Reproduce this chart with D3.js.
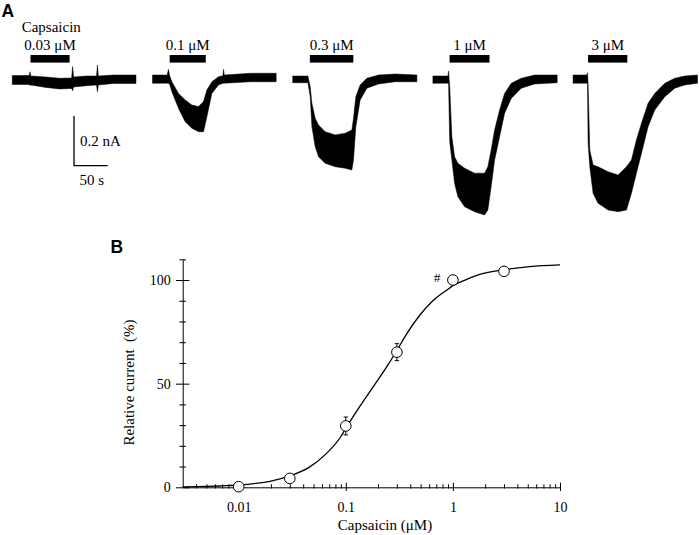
<!DOCTYPE html>
<html>
<head>
<meta charset="utf-8">
<script src="https://cdn.jsdelivr.net/npm/d3@7"></script>
<style>
  body { margin: 0; background: #fff; }
  svg { display: block; }
  .serif { font-family: "Liberation Serif", "Times New Roman", serif; }
  .panel { font-family: "Liberation Sans", Arial, sans-serif; font-weight: bold; }
</style>
</head>
<body>
<script>
// Panel A — current traces, one per capsaicin dose.
// Each row: [time in s from trace start, upper edge (nA), lower edge (nA)]
const doseLabels = ["0.03 μM", "0.1 μM", "0.3 μM", "1 μM", "3 μM"];
const traceOffsets = [0, 208, 416, 624, 832];   // s, start of each trace
const barStart = [27, 25.5, 25.5, 24.8, 22.3];   // s, capsaicin on
const barEnd = [85, 79, 90, 84, 80.5];           // s, capsaicin off

const trace003 = [
  [0, 0.016, -0.020], [25, 0.016, -0.020], [26.3, 0.031, -0.024], [27.5, 0.014, -0.022],
  [50, 0.010, -0.032], [70, 0.005, -0.038], [88, 0.006, -0.036], [89.5, 0.052, -0.045],
  [91, 0.010, -0.030], [110, 0.014, -0.025], [125, 0.014, -0.022], [126.3, 0.058, -0.049],
  [127.6, 0.014, -0.022], [150, 0.018, -0.016], [183.5, 0.018, -0.016]
];
const trace01 = [
  [0, 0.018, -0.015], [21.8, 0.018, -0.015], [23.7, 0.041, -0.015], [25.5, 0.015, -0.020],
  [28.8, -0.009, -0.049], [38.6, -0.056, -0.116], [48.5, -0.082, -0.170], [58.5, -0.103, -0.196],
  [68.3, -0.109, -0.210], [75.7, -0.089, -0.210], [80.7, -0.042, -0.150], [88.1, -0.009, -0.056],
  [97.9, 0.011, -0.022], [104.5, 0.015, -0.015], [105.3, 0.041, -0.015], [106.5, 0.018, -0.015],
  [145, 0.025, -0.009], [183.5, 0.025, -0.009]
];
const trace03 = [
  [0, 0.014, -0.013], [22.6, 0.014, -0.013], [26, -0.029, -0.069], [28.5, -0.096, -0.190],
  [33.4, -0.156, -0.270], [38.3, -0.183, -0.311], [48.2, -0.210, -0.337], [63.1, -0.223, -0.351],
  [77.9, -0.216, -0.357], [87.8, -0.203, -0.364], [90.2, -0.156, -0.324], [93.7, -0.069, -0.190],
  [100.1, -0.022, -0.082], [110.1, 0.005, -0.035], [127.3, 0.018, -0.018], [152.1, 0.022, -0.009],
  [184.3, 0.018, -0.009]
];
const trace1 = [
  [0, 0.014, -0.015], [22.3, 0.014, -0.015], [23.3, 0.034, -0.015], [24.8, -0.022, -0.230],
  [25.2, -0.042, -0.257], [28.2, -0.230, -0.324], [32.2, -0.311, -0.418], [37.1, -0.337, -0.472],
  [47.1, -0.357, -0.512], [61.9, -0.377, -0.532], [76.7, -0.377, -0.545], [81.6, -0.351, -0.525],
  [86.5, -0.284, -0.431], [91.6, -0.203, -0.324], [99, -0.123, -0.230], [106.4, -0.056, -0.136],
  [116.3, -0.015, -0.076], [131.1, 0.005, -0.035], [151, 0.018, -0.018], [184.4, 0.018, -0.013]
];
const trace3 = [
  [0, 0.018, -0.015], [20.3, 0.018, -0.015], [21.4, 0.027, -0.015], [22.3, -0.015, -0.257],
  [24.8, -0.284, -0.351], [29.7, -0.344, -0.458], [37.1, -0.351, -0.498], [51.9, -0.371, -0.525],
  [66.8, -0.384, -0.532], [79.2, -0.351, -0.525], [86.6, -0.324, -0.458], [94, -0.243, -0.377],
  [101.5, -0.176, -0.297], [111.3, -0.096, -0.190], [121.2, -0.056, -0.123], [136.1, -0.015, -0.069],
  [150.9, 0.005, -0.035], [165.7, 0.014, -0.022], [184.6, 0.018, -0.015]
];
const traces = [trace003, trace01, trace03, trace1, trace3];

// Panel B — concentration–response
const conc = [0.01, 0.03, 0.1, 0.3, 1, 3];           // μM
const relCurrent = [0.3, 4.3, 29.6, 65.2, 100, 104.2]; // %
const sem = [0.4, 1.2, 4.3, 4.1, 0, 1.0];
const fitConc = [0.003, 0.005, 0.007, 0.01, 0.015, 0.02, 0.03, 0.045, 0.065, 0.09, 0.1,
  0.135, 0.18, 0.24, 0.3, 0.37, 0.49, 0.65, 0.88, 1, 1.3, 1.78, 3, 5.2, 10];
const fitValue = [0.2, 0.4, 0.7, 1.1, 2.0, 3.0, 5.5, 9.5, 16, 24.5, 28.5,
  39, 48.5, 58, 66, 74, 83, 90, 95.2, 97.3, 100, 102.7, 105, 106.5, 107.3];
const xMajor = [0.01, 0.1, 1, 10];
const yMajor = [0, 50, 100];

const W = 699, H = 535;
const svg = d3.select("body").append("svg").attr("width", W).attr("height", H);
svg.append("rect").attr("width", W).attr("height", H).attr("fill", "#fff");

// ---------- Panel A ----------
const gA = svg.append("g");
gA.append("text").attr("class", "panel").attr("x", 1.5).attr("y", 16.7)
  .attr("font-size", 17.5).text("A");

const tx = d3.scaleLinear().domain([0, 50]).range([12.3, 12.3 + 33.7]);   // 50 s = 33.7 px
const iy = d3.scaleLinear().domain([0, -0.2]).range([79.5, 129.2]);        // 0.2 nA = 49.7 px

traces.forEach((tr, i) => {
  const off = traceOffsets[i];
  const area = d3.area()
    .x(d => tx(off + d[0]))
    .y0(d => iy(d[2]))
    .y1(d => iy(d[1]));
  gA.append("path").attr("d", area(tr))
    .attr("fill", "#000").attr("stroke", "#000").attr("stroke-width", 0.5)
    .attr("stroke-linejoin", "round");

  gA.append("rect")
    .attr("x", tx(off + barStart[i]))
    .attr("y", 55)
    .attr("width", tx(off + barEnd[i]) - tx(off + barStart[i]))
    .attr("height", 7.6)
    .attr("fill", "#000");

  gA.append("text").attr("class", "serif")
    .attr("x", (tx(off + barStart[i]) + tx(off + barEnd[i])) / 2)
    .attr("y", 50).attr("text-anchor", "middle").attr("font-size", 15)
    .text(doseLabels[i]);
});

gA.append("text").attr("class", "serif").attr("x", 21.7).attr("y", 31.5)
  .attr("font-size", 15).text("Capsaicin");

// scale bar
const sbX = 74, sbY = 165.7;
const sbH = iy(-0.2) - iy(0), sbW = tx(50) - tx(0);
gA.append("path")
  .attr("d", `M${sbX},${sbY - sbH}V${sbY}H${sbX + sbW}`)
  .attr("fill", "none").attr("stroke", "#000").attr("stroke-width", 1.3);
gA.append("text").attr("class", "serif").attr("x", 80).attr("y", 146)
  .attr("font-size", 15).text("0.2 nA");
gA.append("text").attr("class", "serif").attr("x", 79.5).attr("y", 185)
  .attr("font-size", 15).text("50 s");

// ---------- Panel B ----------
const gB = svg.append("g");
gB.append("text").attr("class", "panel").attr("x", 110.5).attr("y", 252.5)
  .attr("font-size", 17.5).text("B");

const x = d3.scaleLog().domain([0.003, 10]).range([182.7, 560]);
const y = d3.scaleLinear().domain([0, 110]).range([487.3, 259.3]);

// y axis
const yAxisG = gB.append("g").attr("class", "serif")
  .attr("transform", `translate(${x.range()[0]},0)`)
  .call(d3.axisLeft(y).tickValues(yMajor).tickSize(0).tickSizeOuter(0).tickPadding(12));
yAxisG.selectAll(".tick line").attr("x1", -6.7).attr("x2", 6.7);
const yAxisMinor = gB.append("g")
  .attr("transform", `translate(${x.range()[0]},0)`)
  .call(d3.axisLeft(y).tickValues(d3.range(10, 111, 10).filter(v => !yMajor.includes(v)))
    .tickFormat("").tickSize(0).tickSizeOuter(0));
yAxisMinor.select(".domain").remove();
yAxisMinor.selectAll(".tick line").attr("x1", -3.3).attr("x2", 3.3);

// x axis
const minorX = [];
[0.001, 0.01, 0.1, 1].forEach(dec => {
  for (let k = 2; k <= 9; k++) {
    const v = +(dec * k).toPrecision(3);
    if (v > 0.003 && v < 10) minorX.push(v);
  }
});
const xAxisG = gB.append("g").attr("class", "serif")
  .attr("transform", `translate(0,${y(0)})`)
  .call(d3.axisBottom(x).tickValues(xMajor).tickFormat(d => String(d))
    .tickSize(0).tickSizeOuter(0));
xAxisG.selectAll(".tick line").attr("y1", -4.6).attr("y2", 3.7);
xAxisG.selectAll(".tick text").attr("y", 24.4).attr("dy", null);
const xAxisMinor = gB.append("g")
  .attr("transform", `translate(0,${y(0)})`)
  .call(d3.axisBottom(x).tickValues(minorX).tickFormat("").tickSize(0).tickSizeOuter(0));
xAxisMinor.select(".domain").remove();
xAxisMinor.selectAll(".tick line").attr("y1", -3).attr("y2", 1.2);

[yAxisG, yAxisMinor, xAxisG, xAxisMinor].forEach(g => {
  g.selectAll("line, path").attr("stroke", "#000").attr("stroke-width", 1);
  g.selectAll("text").attr("font-size", 14).attr("fill", "#000")
    .attr("font-family", "'Liberation Serif', 'Times New Roman', serif");
});

// axis titles
gB.append("text").attr("class", "serif")
  .attr("transform", "translate(134,382.5) rotate(-90)")
  .attr("text-anchor", "middle").attr("font-size", 15)
  .attr("xml:space", "preserve").style("white-space", "pre")
  .text("Relative current  (%)");
gB.append("text").attr("class", "serif")
  .attr("x", 385).attr("y", 529.5).attr("text-anchor", "middle").attr("font-size", 15)
  .text("Capsaicin (μM)");

// fitted curve
const fitLine = d3.line()
  .x((d, i) => x(fitConc[i]))
  .y(d => y(d))
  .curve(d3.curveMonotoneX);
gB.append("path").attr("d", fitLine(fitValue))
  .attr("fill", "none").attr("stroke", "#000").attr("stroke-width", 1.3);

// error bars
const pts = conc.map((c, i) => ({ c, v: relCurrent[i], e: sem[i] }));
const eb = gB.append("g").attr("stroke", "#000").attr("stroke-width", 1);
pts.filter(d => d.e > 0).forEach(d => {
  eb.append("line").attr("x1", x(d.c)).attr("x2", x(d.c))
    .attr("y1", y(d.v - d.e)).attr("y2", y(d.v + d.e));
  [d.v - d.e, d.v + d.e].forEach(v => {
    eb.append("line").attr("x1", x(d.c) - 2.2).attr("x2", x(d.c) + 2.2)
      .attr("y1", y(v)).attr("y2", y(v));
  });
});

// data points
gB.selectAll("circle.pt").data(pts).join("circle")
  .attr("class", "pt")
  .attr("cx", d => x(d.c)).attr("cy", d => y(d.v)).attr("r", 5.3)
  .attr("fill", "#fff").attr("stroke", "#000").attr("stroke-width", 1);

// significance mark next to 1 μM
gB.append("text").attr("class", "serif")
  .attr("x", x(1) - 15.8).attr("y", y(100) + 2)
  .attr("text-anchor", "middle").attr("font-size", 13.5).text("#");
</script>
</body>
</html>
